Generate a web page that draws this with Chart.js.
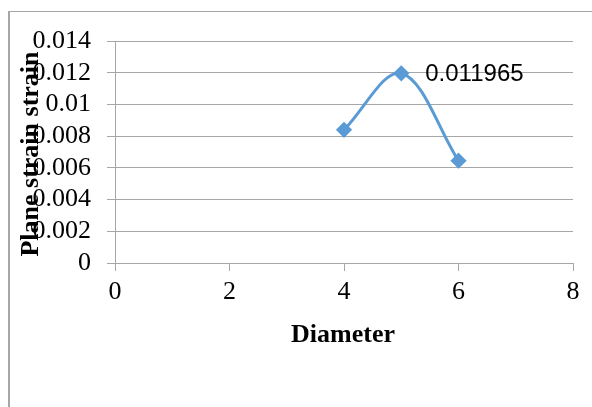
<!DOCTYPE html>
<html>
<head>
<meta charset="utf-8">
<script src="https://cdn.jsdelivr.net/npm/chart.js@4/dist/chart.umd.min.js"></script>
<style>
  body { margin: 0; background: #fff; }
  #wrap { position: relative; width: 592px; height: 407px; }
  #frame { position: absolute; left: 8px; top: 11px; right: 0; bottom: 0;
           border-top: 1px solid #a6a6a6; border-left: 2px solid #a6a6a6; }
  canvas { position: absolute; left: 0; top: 0; }
</style>
</head>
<body>
<div id="wrap">
  <div id="frame"></div>
  <canvas id="chart" width="592" height="407"></canvas>
</div>
<script>
// data
const diameters = [4, 5, 6];
const strains = [0.0084, 0.011965, 0.00645];
const peakLabel = "0.011965";
const xTitle = "Diameter";
const yTitle = "Plane strain strain";

const serif = "'Liberation Serif', 'Times New Roman', serif";
const gridColor = "#a6a6a6";

// axis titles and data label, placed like the Excel original
const overlay = {
    id: "overlay",
    afterDraw(chart) {
        const ctx = chart.ctx;
        ctx.save();
        ctx.fillStyle = "#000";

        // y title overlaps the tick labels
        ctx.font = "bold 26px " + serif;
        ctx.textAlign = "center";
        ctx.textBaseline = "alphabetic";
        ctx.translate(38, 154);
        ctx.rotate(-Math.PI / 2);
        ctx.fillText(yTitle, 0, 0);
        ctx.setTransform(1, 0, 0, 1, 0, 0);

        ctx.fillText(xTitle, 343, 342);

        // label next to the peak
        const pt = chart.getDatasetMeta(0).data[1];
        ctx.font = "24px 'Liberation Sans', Arial, sans-serif";
        ctx.textAlign = "left";
        ctx.textBaseline = "middle";
        ctx.fillText(peakLabel, pt.x + 24, pt.y + 1);
        ctx.restore();
    }
};

new Chart(document.getElementById("chart"), {
    type: "scatter",
    data: {
        datasets: [{
            data: diameters.map((d, i) => ({ x: d, y: strains[i] })),
            showLine: true,
            tension: 0.35,
            borderColor: "#5b9bd5",
            backgroundColor: "#5b9bd5",
            borderWidth: 3,
            pointStyle: "rectRot",
            pointRadius: 6,
            pointHoverRadius: 6
        }]
    },
    options: {
        responsive: false,
        animation: false,
        layout: { padding: { left: 0, top: 41, right: 19, bottom: 0 } },
        plugins: {
            legend: { display: false },
            tooltip: { enabled: false }
        },
        scales: {
            x: {
                type: "linear",
                min: 0,
                max: 8,
                afterFit: s => { s.height = 144; },
                ticks: { stepSize: 2, color: "#000", padding: 6, autoSkip: false,
                         maxRotation: 0,
                         font: { family: serif, size: 26 } },
                grid: { drawOnChartArea: false, color: gridColor, tickLength: 8 },
                border: { color: gridColor }
            },
            y: {
                min: 0,
                max: 0.014,
                afterFit: s => { s.width = 115; },
                ticks: { stepSize: 0.002, color: "#000", padding: 16, autoSkip: false,
                         font: { family: serif, size: 26 },
                         callback: v => String(+v.toFixed(3)) },
                grid: { color: gridColor, tickLength: 8 },
                border: { color: gridColor }
            }
        }
    },
    plugins: [overlay]
});
</script>
</body>
</html>
